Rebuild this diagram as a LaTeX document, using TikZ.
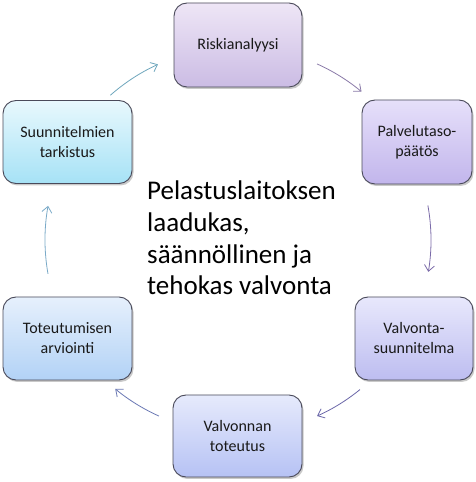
\documentclass[tikz,border=0pt]{standalone}
\usepackage{fontspec}
\setmainfont{Carlito}
\usetikzlibrary{arrows.meta,shadows,calc}
\definecolor{bordc}{HTML}{4A4A5A}
\definecolor{rT}{HTML}{EEE6F6}\definecolor{rB}{HTML}{CBBCE4}
\definecolor{pT}{HTML}{E6E0FA}\definecolor{pB}{HTML}{C2B6EC}
\definecolor{vT}{HTML}{E8E8FC}\definecolor{vB}{HTML}{BDBDF0}
\definecolor{tT}{HTML}{E6EAFC}\definecolor{tB}{HTML}{B6C2F4}
\definecolor{aT}{HTML}{E6F0FC}\definecolor{aB}{HTML}{B2D2F6}
\definecolor{sT}{HTML}{E8F8FD}\definecolor{sB}{HTML}{A6E2F6}
\definecolor{a1}{HTML}{6FA7BD}\definecolor{a2}{HTML}{8A7AA8}
\definecolor{a3}{HTML}{7A6AA8}\definecolor{a4}{HTML}{6A66A8}
\definecolor{a5}{HTML}{6A78B4}\definecolor{a6}{HTML}{7AAAC8}
\tikzset{
  x=1pt,y=1pt,
  cbox/.style={draw=bordc, line width=0.9pt, rounded corners=13pt,
    align=center, font=\fontsize{16}{20}\selectfont, text=black!90,
    drop shadow={shadow xshift=1.5pt, shadow yshift=-2pt, opacity=0.35, fill=black!60}},
  carr/.style={line width=0.8pt, -{Straight Barb[length=6pt,width=10pt,line width=0.8pt]}}
}
\begin{document}
\begin{tikzpicture}
\useasboundingbox (0,0) rectangle (476,482);
\fill[white] (0,0) rectangle (476,482);
\node[cbox, top color=rT, bottom color=rB, minimum width=128pt, minimum height=84pt] (R) at (238,437) {Riskianalyysi};
\node[cbox, top color=pT, bottom color=pB, minimum width=110pt, minimum height=84pt] (P) at (417,340) {Palvelutaso-\\päätös};
\node[cbox, top color=vT, bottom color=vB, minimum width=118pt, minimum height=83pt] (V) at (414,143.5) {Valvonta-\\suunnitelma};
\node[cbox, top color=tT, bottom color=tB, minimum width=129pt, minimum height=82pt] (T) at (237.5,46) {Valvonnan\\toteutus};
\node[cbox, top color=aT, bottom color=aB, minimum width=129pt, minimum height=83pt] (A) at (67.5,143.5) {Toteutumisen\\arviointi};
\node[cbox, top color=sT, bottom color=sB, minimum width=129pt, minimum height=83pt] (S) at (67.5,340) {Suunnitelmien\\tarkistus};
\coordinate (C) at (238,242);
\node[anchor=base west, align=left, font=\fontsize{27}{31.7}\selectfont, text=black, inner sep=0pt] (M) at (147,187)
  {Pelastuslaitoksen\\laadukas,\\säännöllinen ja\\tehokas valvonta};
\draw[carr, a1] ($(C)+(131.4:193)$) arc[start angle=131.4, end angle=114.5, radius=193];
\draw[carr, a2] ($(C)+(65.8:193)$) arc[start angle=65.8, end angle=50.2, radius=193];
\draw[carr, a3] ($(C)+(10.3:193)$) arc[start angle=10.3, end angle=-9.5, radius=193];
\draw[carr, a4] ($(C)+(-50.8:193)$) arc[start angle=-50.8, end angle=-65.8, radius=193];
\draw[carr, a5] ($(C)+(-114.2:193)$) arc[start angle=-114.2, end angle=-129.5, radius=193];
\draw[carr, a6] ($(C)+(190.1:193)$) arc[start angle=190.1, end angle=169.8, radius=193];
\end{tikzpicture}
\end{document}
